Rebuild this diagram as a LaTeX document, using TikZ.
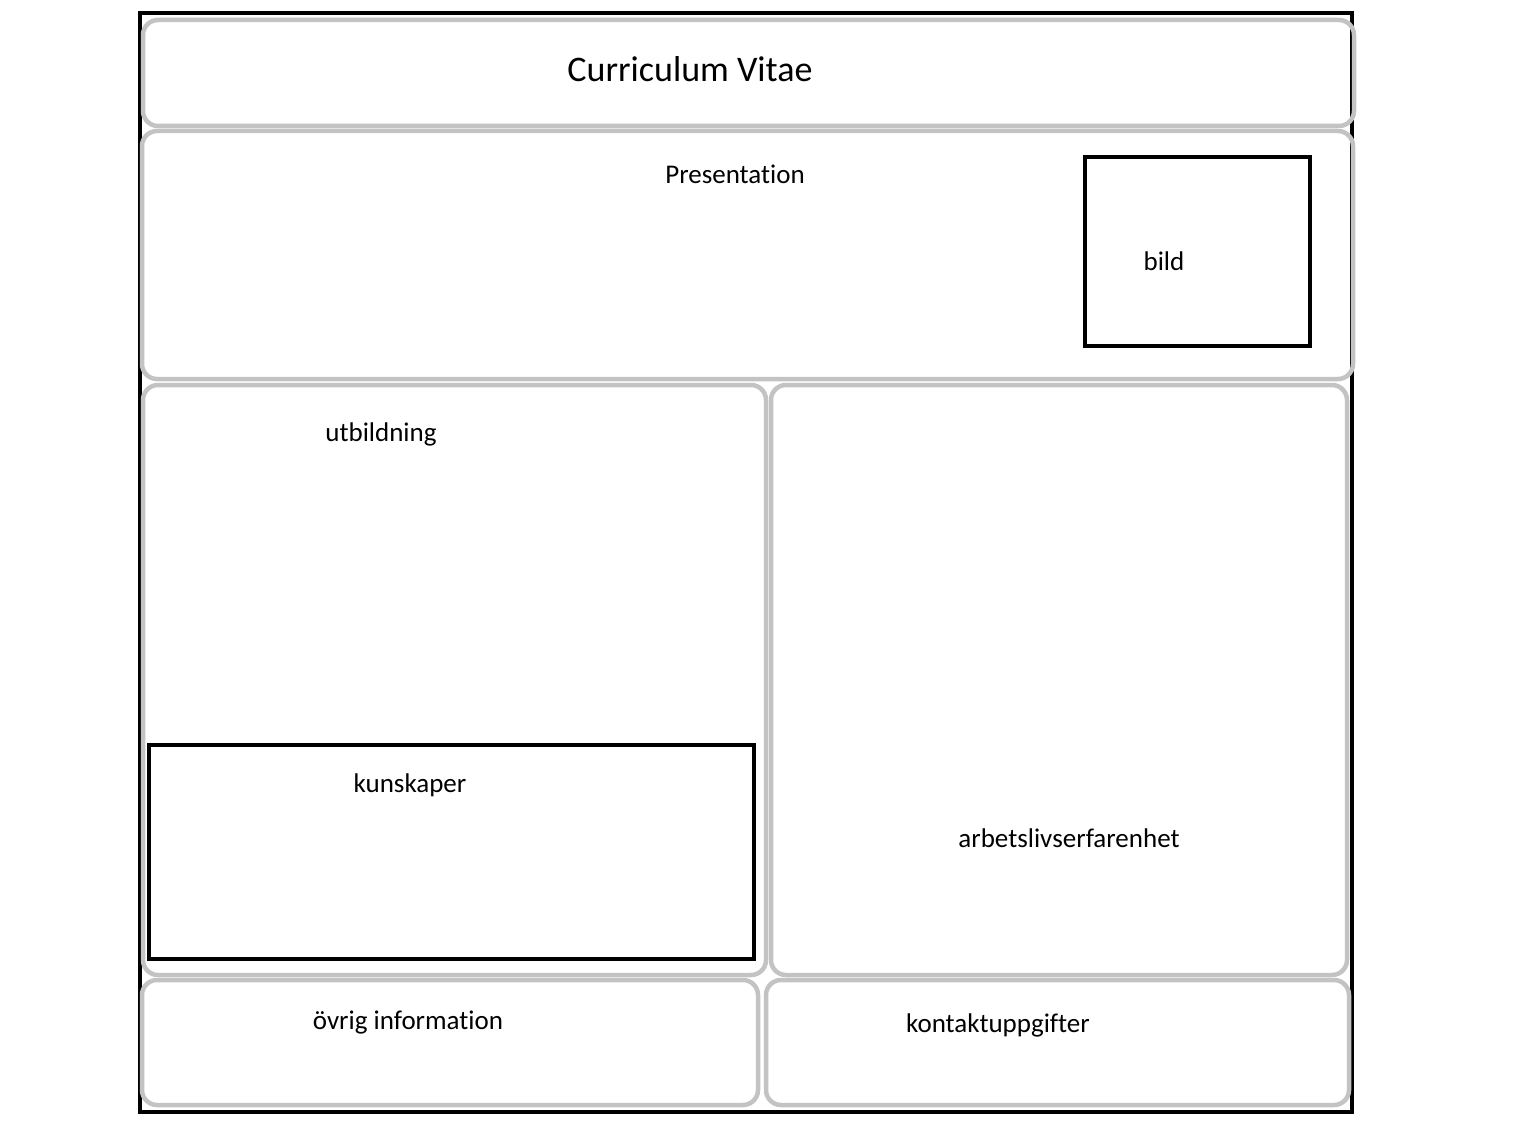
\documentclass[tikz,border=0pt]{standalone}
\usepackage{fontspec}
\setmainfont{Carlito}[Ligatures=NoCommon]
\usepackage{tikz}
\usetikzlibrary{positioning}
\definecolor{frame}{HTML}{000000}
\definecolor{panel}{HTML}{C3C3C3}
\tikzset{panelbox/.style={draw=panel,line width=4.5pt,rounded corners=15pt},framebox/.style={draw=frame,line width=4pt},cvlabel/.style={anchor=base,inner sep=0pt,font=\fontsize{27}{31}\selectfont},cvtitle/.style={anchor=base,inner sep=0pt,font=\fontsize{36}{41}\selectfont}}
\begin{document}
\begin{tikzpicture}[x=1pt,y=-1pt]
\useasboundingbox (0,0) rectangle (1535,1126);
\draw[framebox] (140,13) rectangle (1352,1112);
\draw[panelbox] (143,20) rectangle (1354,126);
\draw[panelbox] (142,131) rectangle (1353,379);
\draw[panelbox] (143,385) rectangle (766,975);
\draw[panelbox] (771,385) rectangle (1347,975);
\draw[panelbox] (142,980) rectangle (758,1105);
\draw[panelbox] (766,980) rectangle (1349,1105);
\draw[framebox] (1085,157) rectangle (1310,346);
\draw[framebox] (149,745) rectangle (754,959);
\node[cvtitle] (title) at (690,82) {Curriculum Vitae};
\node[cvlabel] (pres) at (735,184) {Presentation};
\node[cvlabel] (bild) at (1164,271) {bild};
\node[cvlabel] (utb) at (381,441) {utbildning};
\node[cvlabel] (kunsk) at (410,792) {kunskaper};
\node[cvlabel] (arbete) at (1069,847) {arbetslivserfarenhet};
\node[cvlabel] (ovrig) at (408,1029) {övrig information};
\node[cvlabel] (kontakt) at (998,1032) {kontaktuppgifter};
\end{tikzpicture}
\end{document}
